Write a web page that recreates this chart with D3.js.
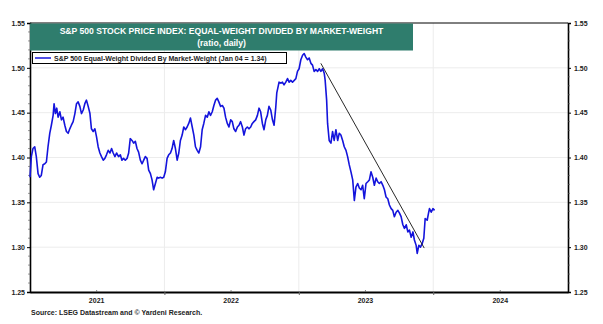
<!DOCTYPE html>
<meta charset="utf-8">
<script src="https://cdn.jsdelivr.net/npm/d3@7"></script>
<style>
  body { margin: 0; background: #fff; }
  text { font-family: "Liberation Sans", Arial, sans-serif; }
</style>
<div id="chart"></div>
<script>
// decimal-year dates and ratio values
var years = [2021.000,2021.010,2021.022,2021.035,2021.047,2021.060,2021.072,2021.084,2021.097,2021.110,2021.122,2021.134,2021.147,2021.159,2021.172,2021.179,2021.189,2021.199,2021.209,2021.222,2021.234,2021.246,2021.259,2021.271,2021.284,2021.296,2021.308,2021.321,2021.334,2021.346,2021.358,2021.371,2021.383,2021.396,2021.408,2021.420,2021.433,2021.446,2021.457,2021.470,2021.483,2021.495,2021.507,2021.520,2021.532,2021.545,2021.557,2021.569,2021.582,2021.595,2021.607,2021.619,2021.632,2021.644,2021.659,2021.672,2021.684,2021.696,2021.709,2021.722,2021.734,2021.746,2021.759,2021.771,2021.784,2021.796,2021.808,2021.821,2021.834,2021.846,2021.858,2021.871,2021.883,2021.896,2021.908,2021.920,2021.933,2021.946,2021.957,2021.970,2021.983,2021.995,2022.007,2022.020,2022.032,2022.045,2022.057,2022.069,2022.082,2022.095,2022.107,2022.119,2022.132,2022.144,2022.157,2022.169,2022.181,2022.194,2022.207,2022.219,2022.231,2022.244,2022.256,2022.269,2022.281,2022.293,2022.306,2022.319,2022.331,2022.343,2022.356,2022.368,2022.381,2022.393,2022.405,2022.418,2022.431,2022.443,2022.455,2022.468,2022.480,2022.493,2022.505,2022.517,2022.530,2022.543,2022.555,2022.567,2022.580,2022.592,2022.604,2022.617,2022.629,2022.642,2022.654,2022.666,2022.679,2022.692,2022.704,2022.716,2022.729,2022.741,2022.754,2022.766,2022.778,2022.791,2022.804,2022.816,2022.828,2022.836,2022.846,2022.853,2022.866,2022.878,2022.890,2022.903,2022.916,2022.928,2022.940,2022.953,2022.978,2022.990,2023.002,2023.015,2023.028,2023.040,2023.052,2023.065,2023.077,2023.090,2023.102,2023.114,2023.127,2023.140,2023.152,2023.164,2023.177,2023.189,2023.196,2023.207,2023.214,2023.226,2023.239,2023.251,2023.263,2023.276,2023.289,2023.301,2023.313,2023.326,2023.338,2023.351,2023.363,2023.375,2023.388,2023.401,2023.413,2023.425,2023.438,2023.450,2023.463,2023.475,2023.487,2023.500,2023.513,2023.525,2023.537,2023.550,2023.562,2023.575,2023.587,2023.599,2023.612,2023.625,2023.637,2023.649,2023.662,2023.674,2023.687,2023.699,2023.711,2023.724,2023.737,2023.749,2023.761,2023.774,2023.786,2023.799,2023.811,2023.823,2023.836,2023.849,2023.860,2023.873,2023.881,2023.893,2023.905,2023.918,2023.930,2023.940,2023.955,2023.965,2023.972,2023.985,2023.998,2024.010];
var ratio = [1.378,1.401,1.410,1.412,1.401,1.382,1.378,1.380,1.392,1.393,1.395,1.412,1.427,1.436,1.447,1.460,1.449,1.455,1.445,1.451,1.442,1.445,1.436,1.429,1.427,1.432,1.436,1.440,1.449,1.460,1.462,1.457,1.449,1.453,1.460,1.464,1.457,1.449,1.432,1.429,1.432,1.423,1.412,1.405,1.401,1.397,1.399,1.403,1.408,1.405,1.410,1.405,1.401,1.405,1.401,1.403,1.397,1.399,1.397,1.399,1.405,1.421,1.419,1.416,1.418,1.410,1.406,1.397,1.393,1.397,1.401,1.399,1.386,1.382,1.375,1.364,1.371,1.378,1.377,1.378,1.377,1.378,1.384,1.399,1.403,1.405,1.410,1.419,1.410,1.397,1.405,1.419,1.425,1.434,1.431,1.434,1.438,1.444,1.434,1.425,1.412,1.408,1.405,1.412,1.431,1.438,1.447,1.445,1.451,1.447,1.451,1.458,1.464,1.466,1.462,1.457,1.458,1.455,1.445,1.438,1.434,1.442,1.440,1.432,1.429,1.434,1.436,1.440,1.434,1.425,1.432,1.434,1.432,1.434,1.438,1.440,1.442,1.447,1.455,1.451,1.438,1.431,1.442,1.447,1.457,1.453,1.442,1.436,1.455,1.472,1.479,1.484,1.483,1.484,1.481,1.484,1.488,1.484,1.486,1.484,1.488,1.496,1.499,1.509,1.514,1.516,1.512,1.509,1.511,1.505,1.503,1.496,1.498,1.496,1.499,1.496,1.499,1.494,1.486,1.464,1.438,1.419,1.416,1.429,1.419,1.431,1.419,1.427,1.425,1.419,1.412,1.408,1.401,1.392,1.384,1.375,1.352,1.367,1.371,1.366,1.364,1.369,1.354,1.371,1.373,1.375,1.384,1.378,1.369,1.377,1.373,1.371,1.373,1.369,1.364,1.356,1.354,1.347,1.343,1.341,1.334,1.339,1.341,1.338,1.334,1.325,1.321,1.325,1.317,1.319,1.311,1.317,1.308,1.302,1.293,1.302,1.300,1.304,1.310,1.332,1.330,1.338,1.343,1.339,1.343,1.341,1.345,1.347,1.343];
var trendYears = [2023.164, 2023.933];
var trendValues = [1.505, 1.299];
var yTicks = [1.25, 1.30, 1.35, 1.40, 1.45, 1.50, 1.55];
var xLabels = ["2021", "2022", "2023", "2024"];

var W = 603, H = 324;
var m = { left: 30, right: 35, top: 23, bottom: 32 };

function toDate(y) {
  var yr = Math.floor(y);
  var a = new Date(yr, 0, 1), b = new Date(yr + 1, 0, 1);
  return new Date(+a + (y - yr) * (b - a));
}

var svg = d3.select("#chart").append("svg")
  .attr("width", W).attr("height", H);

var x = d3.scaleTime()
  .domain([new Date(2021, 0, 1), new Date(2025, 0, 1)])
  .range([m.left, W - m.right]);
var y = d3.scaleLinear()
  .domain([1.25, 1.55])
  .range([H - m.bottom, m.top]);

// grid
svg.append("g").selectAll("line").data(yTicks.slice(1, -1)).enter().append("line")
  .attr("x1", m.left).attr("x2", W - m.right)
  .attr("y1", function(d) { return y(d); }).attr("y2", function(d) { return y(d); })
  .style("stroke", "#ececec").style("stroke-width", 1);
svg.append("g").selectAll("line").data([2022, 2023, 2024]).enter().append("line")
  .attr("x1", function(d) { return x(new Date(d, 0, 1)); })
  .attr("x2", function(d) { return x(new Date(d, 0, 1)); })
  .attr("y1", m.top).attr("y2", H - m.bottom)
  .style("stroke", "#ececec").style("stroke-width", 1);

// axes
var fmt = d3.format(".2f");
var left = svg.append("g").attr("transform", "translate(" + m.left + ",0)")
  .call(d3.axisLeft(y).tickValues(yTicks).tickFormat(fmt).tickSize(3).tickPadding(2));
var right = svg.append("g").attr("transform", "translate(" + (W - m.right) + ",0)")
  .call(d3.axisRight(y).tickValues(yTicks).tickFormat(fmt).tickSize(3).tickPadding(3));
// minor ticks
var minor = d3.range(1.26, 1.55, 0.01).filter(function(v) { return Math.abs(v * 20 - Math.round(v * 20)) > 0.01; });
[[m.left, -2], [W - m.right, 2]].forEach(function(s) {
  svg.append("g").selectAll("line").data(minor).enter().append("line")
    .attr("x1", s[0]).attr("x2", s[0] + s[1])
    .attr("y1", function(d) { return y(d); }).attr("y2", function(d) { return y(d); })
    .style("stroke", "#555").style("stroke-width", 0.6);
});

[left, right].forEach(function(g) {
  g.select(".domain").style("stroke", "#000").style("stroke-width", 1.6);
  g.selectAll(".tick line").style("stroke", "#000");
  g.selectAll("text").style("font-size", "7px").style("font-weight", "bold").style("fill", "#222");
});

var bottom = svg.append("g").attr("transform", "translate(0," + (H - m.bottom) + ")")
  .call(d3.axisBottom(x).tickValues([2022, 2023, 2024].map(function(d) { return new Date(d, 0, 1); }))
    .tickFormat("").tickSize(3).tickSizeOuter(0));
bottom.select(".domain").style("stroke", "#000").style("stroke-width", 2);
bottom.selectAll(".tick line").style("stroke", "#666");
svg.append("g").selectAll("line").data([2021, 2022, 2023, 2024]).enter().append("line")
  .attr("x1", function(d) { return x(new Date(d, 6, 1)); })
  .attr("x2", function(d) { return x(new Date(d, 6, 1)); })
  .attr("y1", H - m.bottom).attr("y2", H - m.bottom - 2)
  .style("stroke", "#666").style("stroke-width", 0.8);

svg.append("g").selectAll("text").data(xLabels).enter().append("text")
  .attr("x", function(d) { return x(new Date(+d, 6, 1)); })
  .attr("y", H - m.bottom + 11)
  .attr("text-anchor", "middle")
  .style("font-size", "7px").style("font-weight", "bold").style("fill", "#222")
  .text(function(d) { return d; });

// top border
svg.append("line")
  .attr("x1", m.left).attr("x2", W - m.right).attr("y1", m.top).attr("y2", m.top)
  .style("stroke", "#000").style("stroke-width", 1);

// series
var pts = years.map(function(t, i) { return { d: toDate(t), v: ratio[i] }; });
var line = d3.line().x(function(p) { return x(p.d); }).y(function(p) { return y(p.v); });
svg.append("path").datum(pts).attr("d", line)
  .style("fill", "none").style("stroke", "#1414dc").style("stroke-width", 1.6)
  .style("stroke-linejoin", "round");

// trend line
var tr = trendYears.map(function(t, i) { return { d: toDate(t), v: trendValues[i] }; });
svg.append("path").datum(tr).attr("d", line)
  .style("fill", "none").style("stroke", "#111").style("stroke-width", 0.9);

// title box
var tx0 = m.left, tx1 = 413;
svg.append("rect").attr("x", tx0).attr("y", m.top + 0.5).attr("width", tx1 - tx0).attr("height", 27)
  .style("fill", "#2f7d6d");
svg.append("text").attr("x", (tx0 + tx1) / 2).attr("y", m.top + 11)
  .attr("text-anchor", "middle")
  .style("font-size", "8.6px").style("font-weight", "bold").style("fill", "#fff")
  .text("S&P 500 STOCK PRICE INDEX: EQUAL-WEIGHT DIVIDED BY MARKET-WEIGHT");
svg.append("text").attr("x", (tx0 + tx1) / 2).attr("y", m.top + 23)
  .attr("text-anchor", "middle")
  .style("font-size", "8.6px").style("font-weight", "bold").style("fill", "#fff")
  .text("(ratio, daily)");

// legend
svg.append("rect").attr("x", 32.5).attr("y", 52.5).attr("width", 254).attr("height", 11)
  .style("fill", "#fff").style("stroke", "#000").style("stroke-width", 1);
svg.append("line").attr("x1", 35).attr("x2", 51).attr("y1", 58).attr("y2", 58)
  .style("stroke", "#1414dc").style("stroke-width", 1.5);
svg.append("text").attr("x", 54).attr("y", 60.8)
  .style("font-size", "7px").style("font-weight", "bold").style("fill", "#222")
  .text("S&P 500 Equal-Weight Divided By Market-Weight (Jan 04 = 1.34)");

// source
svg.append("text").attr("x", 31).attr("y", 315)
  .style("font-size", "7px").style("font-weight", "bold").style("fill", "#222")
  .text("Source: LSEG Datastream and \u00a9 Yardeni Research.");
</script>
